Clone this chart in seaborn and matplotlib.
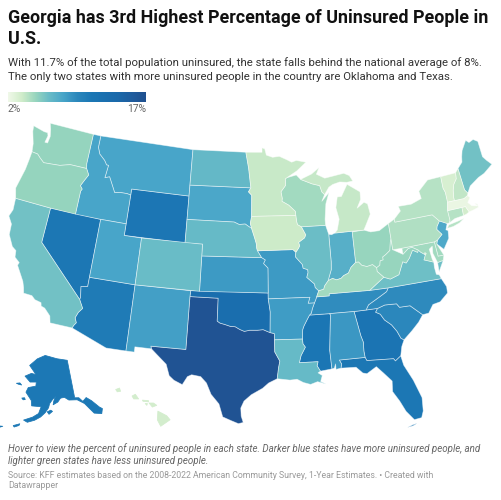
import numpy as np
import matplotlib
matplotlib.use("Agg")
import matplotlib.pyplot as plt
import seaborn as sns

# uninsured share per state
STATES = ["TX", "OK", "GA", "MS", "FL", "WY", "NV", "AK", "AZ", "SC", "NC", "TN", "AL", "MO", "AR", "KS",
          "NM", "MT", "ID", "UT", "SD", "NJ", "IN", "ND", "NE", "CO", "LA", "ME", "CA", "IL", "VA",
          "WA", "OR", "OH", "WV", "KY", "WI", "DE", "MD", "PA", "NY", "CT", "MI", "MN", "IA", "NH",
          "VT", "RI", "HI", "DC", "MA"]
VALUES = [16.6, 12.9, 11.7, 11.4, 11.2, 11.3, 11.2, 11.0, 10.7, 9.6, 9.4, 9.3, 8.7, 8.6, 8.5, 8.6,
          8.3, 8.0, 8.0, 8.0, 7.9, 7.7, 7.3, 6.7, 6.6, 6.5, 6.6, 6.2, 6.2, 6.4, 6.3,
          5.1, 5.1, 5.0, 5.0, 4.7, 4.7, 4.7, 4.7, 4.4, 4.2, 4.2, 3.8, 3.7, 3.6, 3.9,
          3.2, 3.4, 3.4, 2.9, 2.3]

TITLE = ["Georgia has 3rd Highest Percentage of Uninsured People in", "U.S."]
SUBTITLE = ["With 11.7% of the total population uninsured, the state falls behind the national average of 8%.",
            "The only two states with more uninsured people in the country are Oklahoma and Texas."]
NOTE = ["Hover to view the percent of uninsured people in each state. Darker blue states have more uninsured people, and",
        "lighter green states have less uninsured people."]
SOURCE = ["Source: KFF estimates based on the 2008-2022 American Community Survey, 1-Year Estimates. \u2022 Created with",
          "Datawrapper"]
LEGEND_MIN, LEGEND_MAX = 2, 17
RAMP = ["#f0f9e9", "#d0ecca", "#97d5be", "#68bbc7", "#48a5c9", "#2c88bc",
        "#1c78b5", "#1a70b0", "#1b69aa", "#1f5d9e", "#20508f"]

# shared borders in lon/lat
UM1 = [(-92.1, 46.75), (-92.29, 46.66), (-92.29, 46.1), (-92.88, 45.57), (-92.75, 45.0), (-92.8, 44.75), (-92.0, 44.4), (-91.25, 43.85), (-91.22, 43.5)]
UM2 = [(-91.15, 42.95), (-91.07, 42.7), (-90.64, 42.51)]
UM3 = [(-90.18, 41.8), (-90.35, 41.55), (-91.05, 41.2), (-90.95, 40.9), (-91.1, 40.7), (-91.42, 40.38)]
UM4 = [(-91.5, 40.0), (-90.75, 39.3), (-90.7, 39.0), (-90.2, 38.85), (-90.18, 38.6), (-90.35, 38.2), (-89.55, 37.6), (-89.5, 37.3), (-89.15, 37.0)]
UM5 = [(-89.42, 36.5)]
UM6 = [(-89.55, 36.25), (-89.7, 36.0)]
UM7 = [(-89.95, 35.55), (-90.1, 35.15), (-90.3, 35.0)]
UM8 = [(-90.6, 34.6), (-90.95, 34.1), (-91.1, 33.8), (-91.17, 33.0)]
UM9 = [(-91.15, 32.6), (-90.92, 32.3), (-91.4, 31.6), (-91.6, 31.0)]
OHIO_A = [(-88.6, 37.1), (-88.45, 37.4), (-88.03, 37.8)]
OHIO_B = [(-87.55, 37.95), (-87.1, 37.8), (-86.6, 37.9), (-86.3, 38.1), (-85.75, 38.27), (-85.4, 38.73), (-84.82, 39.1)]
OHIO_C = [(-84.5, 39.1), (-84.2, 38.8), (-83.65, 38.63), (-83.0, 38.73), (-82.6, 38.42)]
OHIO_D = [(-82.2, 38.6), (-82.1, 38.95), (-81.75, 39.0), (-81.75, 39.25), (-81.4, 39.4), (-80.85, 39.7), (-80.65, 40.4), (-80.52, 40.64)]
SD_NE = [(-98.5, 43.0), (-97.9, 42.8), (-97.2, 42.85), (-96.7, 42.6), (-96.45, 42.49)]
IA_NE = [(-96.1, 41.7), (-95.9, 41.2), (-95.85, 40.8), (-95.77, 40.58)]
MO_NE = [(-95.31, 40.0)]
KS_MO = [(-94.9, 39.8), (-95.1, 39.5), (-94.61, 39.11), (-94.62, 37.0)]
RED = [(-100.0, 34.56), (-99.7, 34.4), (-99.2, 34.3), (-98.6, 34.15), (-98.1, 34.13), (-97.6, 33.9), (-97.15, 33.75), (-96.6, 33.85), (-95.8, 33.85), (-95.2, 33.9), (-94.48, 33.64)]
TX_LA = [(-94.04, 33.02), (-94.04, 31.99), (-93.55, 31.2), (-93.7, 30.6), (-93.75, 30.3), (-93.85, 29.7)]
ID_MT = [(-116.05, 49.0), (-116.05, 48.0), (-115.7, 47.45), (-114.95, 47.0), (-114.6, 46.65), (-114.35, 46.65), (-114.5, 45.55), (-113.95, 45.7), (-113.45, 45.05), (-113.0, 44.45), (-112.3, 44.55), (-111.5, 44.55), (-111.05, 44.48)]
OR_ID = [(-117.03, 42.0), (-117.03, 44.0), (-116.9, 44.2), (-117.2, 44.45), (-116.85, 45.0), (-116.5, 45.5), (-116.92, 46.0)]
OR_WA = [(-116.92, 46.0), (-118.98, 46.0), (-119.3, 45.93), (-120.2, 45.72), (-121.2, 45.65), (-122.2, 45.58), (-122.8, 45.9), (-123.2, 46.15), (-123.95, 46.2)]
AZ_CA = [(-114.81, 32.5), (-114.72, 32.72), (-114.5, 33.0), (-114.72, 33.4), (-114.5, 33.9), (-114.14, 34.3), (-114.63, 35.0)]
AZ_NV = [(-114.63, 35.0), (-114.57, 35.15), (-114.75, 36.1), (-114.05, 36.2), (-114.05, 37.0)]
GA_SC = [(-83.1, 35.0), (-83.35, 34.7), (-82.9, 34.48), (-82.55, 33.95), (-81.9, 33.45), (-81.45, 32.85), (-81.15, 32.2), (-80.87, 32.03)]
AL_GA = [(-85.6, 34.98), (-85.18, 32.87), (-85.0, 32.3), (-85.05, 31.55), (-85.0, 31.0)]
FL_GA = [(-85.0, 31.0), (-84.86, 30.71), (-82.2, 30.57), (-82.05, 30.36), (-81.45, 30.72)]
NC_SC = [(-83.1, 35.0), (-82.3, 35.2), (-81.05, 35.15), (-80.8, 34.82), (-79.68, 34.8), (-78.55, 33.86)]
NC_TN = [(-81.68, 36.59), (-81.9, 36.3), (-82.6, 36.0), (-83.3, 35.7), (-84.0, 35.4), (-84.32, 34.99)]
KY_WV = [(-82.6, 38.42), (-82.6, 38.1), (-81.97, 37.54)]
VA_WV = [(-81.97, 37.54), (-81.3, 37.3), (-80.3, 37.55), (-79.65, 38.58), (-79.3, 38.42), (-78.87, 38.77), (-78.35, 39.4), (-77.83, 39.13), (-77.72, 39.32)]
MD_VA = [(-77.72, 39.32), (-77.5, 39.1), (-77.04, 38.8), (-77.3, 38.4), (-77.0, 38.3), (-76.3, 38.05)]
MD_WV = [(-77.72, 39.32), (-78.35, 39.65), (-78.8, 39.6), (-79.48, 39.2), (-79.48, 39.72)]
IL_IN = [(-87.53, 41.7), (-87.53, 39.35), (-87.6, 38.7), (-87.95, 38.0), (-88.03, 37.8)]
NH_VT = [(-71.5, 45.01), (-71.6, 44.5), (-72.05, 44.1), (-72.3, 43.6), (-72.45, 43.0), (-72.46, 42.73)]
NY_VT = [(-73.35, 45.0), (-73.4, 44.0), (-73.25, 43.6), (-73.27, 42.75)]
NJ_PA = [(-74.7, 41.36), (-75.1, 40.95), (-75.2, 40.7), (-74.75, 40.2), (-75.4, 39.8)]
ME_NH = [(-71.08, 45.3), (-70.98, 43.4), (-70.7, 43.07)]
WI_UP = [(-90.4, 46.55), (-89.0, 46.1), (-88.1, 45.9), (-87.9, 45.35), (-87.6, 45.1)]


def rev(line):
    return line[::-1]


OUTLINES = {
    "WA": [[(-117.03, 49.0), (-122.76, 49.0), (-122.5, 48.5), (-122.3, 47.9), (-122.4, 47.3), (-122.75, 47.3), (-122.6, 47.9), (-122.75, 48.15), (-123.2, 48.15), (-124.7, 48.38), (-124.6, 47.9), (-124.1, 46.9)] + rev(OR_WA) + [(-117.04, 46.4)]],
    "OR": [[(-124.2, 42.0), (-120.0, 42.0)] + OR_ID + OR_WA[1:] + [(-124.0, 45.5), (-124.1, 44.6), (-124.55, 42.84)]],
    "CA": [[(-124.2, 42.0), (-120.0, 42.0), (-120.0, 39.0)] + rev(AZ_CA) + [(-117.12, 32.53), (-117.3, 33.1), (-118.0, 33.65), (-118.4, 33.75), (-118.5, 34.03), (-119.2, 34.15), (-119.6, 34.42), (-120.5, 34.45), (-120.65, 34.9), (-120.9, 35.4), (-121.9, 36.6), (-121.8, 36.85), (-122.4, 37.2), (-122.5, 37.75), (-123.0, 38.0), (-123.7, 38.9), (-123.8, 39.8), (-124.35, 40.4), (-124.1, 41.0)]],
    "NV": [[(-120.0, 42.0), (-114.04, 42.0)] + rev(AZ_NV) + [(-120.0, 39.0)]],
    "ID": [[(-117.03, 49.0)] + ID_MT + [(-111.05, 42.0), (-114.04, 42.0)] + OR_ID + [(-117.04, 46.4)]],
    "MT": [[(-116.05, 49.0), (-104.05, 49.0), (-104.05, 45.0), (-111.05, 45.0)] + rev(ID_MT)],
    "WY": [[(-111.05, 45.0), (-104.05, 45.0), (-104.05, 41.0), (-111.05, 41.0)]],
    "UT": [[(-114.04, 42.0), (-111.05, 42.0), (-111.05, 41.0), (-109.05, 41.0), (-109.05, 37.0), (-114.05, 37.0)]],
    "CO": [[(-109.05, 41.0), (-102.05, 41.0), (-102.05, 37.0), (-109.05, 37.0)]],
    "AZ": [[(-109.05, 37.0), (-109.05, 31.33), (-111.07, 31.33)] + AZ_CA + AZ_NV[1:]],
    "NM": [[(-109.05, 37.0), (-103.0, 37.0), (-103.04, 36.5), (-103.06, 32.0), (-106.62, 32.0), (-106.53, 31.78), (-108.21, 31.78), (-108.21, 31.33), (-109.05, 31.33)]],
    "ND": [[(-104.05, 49.0), (-97.23, 49.0), (-96.85, 47.6), (-96.56, 45.94), (-104.05, 45.94)]],
    "SD": [[(-104.05, 45.94), (-96.56, 45.94), (-96.85, 45.6), (-96.45, 45.3), (-96.45, 43.5), (-96.6, 42.9)] + rev(SD_NE) + [(-104.05, 43.0)]],
    "NE": [[(-104.05, 43.0)] + SD_NE + IA_NE + MO_NE + [(-102.05, 40.0), (-102.05, 41.0), (-104.05, 41.0)]],
    "KS": [[(-102.05, 40.0), (-95.31, 40.0)] + KS_MO + [(-102.05, 37.0)]],
    "OK": [[(-103.0, 37.0), (-103.04, 36.5), (-100.0, 36.5)] + RED + [(-94.43, 35.4), (-94.62, 36.5), (-94.62, 37.0)]],
    "TX": [[(-106.62, 32.0), (-103.06, 32.0), (-103.04, 36.5), (-100.0, 36.5)] + RED + [(-94.04, 33.55)] + TX_LA + [(-94.7, 29.35), (-95.3, 28.9), (-96.4, 28.35), (-97.1, 27.8), (-97.4, 27.2), (-97.35, 26.5), (-97.15, 25.96), (-97.6, 25.85), (-98.3, 26.1), (-99.1, 26.4), (-99.5, 27.5), (-100.3, 28.3), (-100.8, 29.25), (-101.4, 29.77), (-102.3, 29.88), (-102.7, 29.7), (-103.15, 28.98), (-104.0, 29.3), (-104.5, 29.65), (-104.9, 30.6), (-106.0, 31.4), (-106.53, 31.78)]],
    "MN": [[(-97.23, 49.0), (-95.15, 49.0), (-95.15, 49.38), (-94.8, 49.3), (-94.6, 48.75), (-93.8, 48.55), (-92.95, 48.62), (-92.0, 48.3), (-91.4, 48.07), (-90.8, 48.2), (-89.6, 48.0), (-90.8, 47.3)] + UM1 + [(-96.45, 43.5), (-96.45, 45.3), (-96.85, 45.6), (-96.56, 45.94), (-96.85, 47.6)]],
    "IA": [[(-96.45, 43.5), (-91.22, 43.5)] + UM2 + UM3 + [(-91.73, 40.61), (-95.77, 40.58)] + rev(IA_NE) + [(-96.45, 42.49), (-96.6, 42.9)]],
    "MO": [[(-95.77, 40.58), (-91.73, 40.61), (-91.42, 40.38)] + UM4 + UM5 + UM6 + [(-90.37, 36.0), (-90.15, 36.5), (-94.62, 36.5)] + rev(KS_MO) + MO_NE],
    "AR": [[(-94.62, 36.5), (-90.15, 36.5), (-90.37, 36.0), (-89.7, 36.0)] + UM7 + UM8 + [(-94.04, 33.02), (-94.04, 33.55), (-94.48, 33.64), (-94.43, 35.4)]],
    "LA": [[(-94.04, 33.02), (-91.17, 33.0)] + UM9 + [(-89.73, 31.0), (-89.85, 30.65), (-89.55, 30.18), (-89.8, 30.05), (-89.4, 29.8), (-89.6, 29.3), (-89.1, 29.05), (-89.9, 29.3), (-90.6, 29.1), (-91.3, 29.3), (-91.9, 29.6), (-92.6, 29.55)] + rev(TX_LA)],
    "MS": [[(-90.3, 35.0), (-88.2, 35.0), (-88.1, 34.9), (-88.47, 31.9), (-88.4, 30.3), (-89.55, 30.18), (-89.85, 30.65), (-89.73, 31.0)] + rev(UM9) + [(-91.17, 33.0)] + rev(UM8)],
    "AL": [[(-88.2, 35.0)] + AL_GA + [(-87.6, 31.0), (-87.4, 30.65), (-87.5, 30.3), (-88.0, 30.23), (-88.0, 30.7), (-88.15, 30.35), (-88.4, 30.3), (-88.47, 31.9), (-88.1, 34.9)]],
    "GA": [[(-85.6, 34.98), (-84.32, 34.99)] + GA_SC + [(-81.2, 31.5)] + rev(FL_GA) + rev(AL_GA)[1:-1]],
    "FL": [[(-87.6, 31.0)] + FL_GA + [(-81.3, 29.9), (-80.6, 28.5), (-80.05, 26.9), (-80.15, 25.75), (-80.4, 25.2), (-81.1, 25.13), (-81.75, 25.95), (-82.2, 26.9), (-82.75, 27.8), (-82.65, 28.7), (-83.4, 29.5), (-84.0, 30.1), (-85.0, 29.6), (-85.4, 29.7), (-86.0, 30.25), (-87.5, 30.3), (-87.4, 30.65)],
           [(-81.85, 24.55), (-81.3, 24.62), (-80.9, 24.78), (-81.3, 24.72)]],
    "SC": [NC_SC + [(-79.1, 33.3), (-79.9, 32.7)] + rev(GA_SC)[:-1]],
    "NC": [[(-84.32, 34.99)] + NC_SC + [(-77.9, 33.9), (-77.3, 34.55), (-76.5, 34.65), (-75.55, 35.25), (-75.5, 35.8), (-75.87, 36.55)] + NC_TN],
    "TN": [[(-90.3, 35.0)] + rev(UM7) + [(-89.7, 36.0)] + rev(UM6) + UM5 + [(-88.07, 36.5), (-88.05, 36.68), (-83.68, 36.6)] + NC_TN + [(-85.6, 34.98), (-88.2, 35.0)]],
    "KY": [UM5 + [(-89.15, 37.0)] + OHIO_A + OHIO_B + OHIO_C + KY_WV[1:] + [(-83.68, 36.6), (-88.05, 36.68), (-88.07, 36.5)]],
    "IL": [[(-90.64, 42.51), (-87.8, 42.49)] + IL_IN + rev(OHIO_A) + [(-89.15, 37.0)] + rev(UM4)[1:] + [(-91.42, 40.38)] + rev(UM3)[1:]],
    "IN": [[(-87.53, 41.7), (-87.2, 41.65), (-86.82, 41.76), (-84.8, 41.76), (-84.82, 39.1)] + rev(OHIO_B)[1:] + rev(IL_IN)[:-1]],
    "OH": [[(-84.8, 41.7), (-83.45, 41.73), (-82.7, 41.5), (-81.7, 41.5), (-80.52, 41.98), (-80.52, 40.64)] + rev(OHIO_D)[1:] + [(-82.6, 38.42)] + rev(OHIO_C)[1:] + [(-84.82, 39.1)]],
    "MI": [[(-86.82, 41.76), (-84.8, 41.76), (-83.45, 41.73), (-83.15, 42.1), (-82.45, 43.0), (-82.6, 43.9), (-83.0, 44.07), (-83.9, 43.65), (-83.35, 44.35), (-83.3, 45.0), (-84.75, 45.78), (-85.6, 44.8), (-86.1, 44.8), (-86.4, 43.9), (-86.15, 42.9), (-86.5, 42.0)],
           rev(WI_UP) + [(-89.0, 46.95), (-88.0, 47.45), (-88.4, 46.9), (-87.4, 46.5), (-85.0, 46.75), (-84.35, 46.5), (-84.0, 46.0), (-84.75, 45.95), (-85.6, 46.05), (-86.5, 45.9), (-87.0, 45.7)]],
    "WI": [[(-92.1, 46.75), (-90.9, 46.95)] + WI_UP + [(-88.0, 44.55), (-87.05, 45.25), (-87.55, 44.3), (-87.8, 43.0), (-87.8, 42.49), (-90.64, 42.51)] + rev(UM2)[1:] + [(-91.22, 43.5)] + rev(UM1)[1:]],
    "PA": [[(-80.52, 41.98), (-79.76, 42.27), (-79.76, 42.0), (-75.35, 42.0)] + NJ_PA + [(-75.78, 39.72), (-79.48, 39.72), (-80.52, 39.72), (-80.52, 40.64)]],
    "NY": [[(-79.76, 42.27), (-78.9, 42.85), (-79.05, 43.27), (-77.5, 43.25), (-76.2, 43.55), (-76.3, 44.2), (-75.0, 44.98)] + NY_VT + [(-73.5, 42.05), (-73.49, 41.2), (-73.65, 41.0), (-73.9, 41.0), (-74.7, 41.36), (-75.35, 42.0), (-79.76, 42.0)],
           [(-74.0, 40.6), (-73.75, 40.85), (-72.6, 40.98), (-71.9, 41.07), (-72.5, 40.8), (-73.3, 40.63)]],
    "NJ": [[(-74.7, 41.36), (-73.9, 41.0), (-74.2, 40.5), (-73.98, 40.4), (-74.1, 39.75), (-74.9, 38.93), (-75.55, 39.5), (-75.4, 39.8)] + rev(NJ_PA)[1:-1]],
    "DE": [[(-75.78, 39.72), (-75.4, 39.8), (-75.55, 39.5), (-75.05, 38.45), (-75.7, 38.46)]],
    "MD": [[(-79.48, 39.72), (-75.78, 39.72), (-75.7, 38.46), (-75.05, 38.45), (-75.25, 38.03), (-75.9, 37.95), (-76.2, 38.8), (-76.1, 39.4), (-76.5, 39.2), (-76.4, 38.3)] + rev(MD_VA) + MD_WV[1:-1]],
    "DC": [[(-77.12, 38.93), (-77.04, 39.0), (-76.91, 38.89), (-77.04, 38.79)]],
    "VA": [[(-83.68, 36.6), (-81.68, 36.59), (-75.87, 36.55), (-76.0, 36.9), (-76.3, 37.0), (-76.35, 37.6)] + rev(MD_VA) + rev(VA_WV)[1:],
           [(-75.25, 38.03), (-75.9, 37.95), (-75.95, 37.15)]],
    "WV": [[(-80.52, 40.64), (-80.52, 39.72)] + rev(MD_WV)[1:] + rev(VA_WV)[1:] + rev(KY_WV) + OHIO_D[:-1]],
    "VT": [NY_VT[:1] + NH_VT + rev(NY_VT)[:-1]],
    "NH": [[(-71.5, 45.01)] + ME_NH + [(-70.82, 42.87), (-71.3, 42.7)] + rev(NH_VT)[:-1]],
    "ME": [[(-71.08, 45.3), (-70.4, 45.75), (-70.25, 46.2), (-70.0, 46.7), (-69.23, 47.46), (-68.9, 47.2), (-68.3, 47.35), (-67.8, 47.07), (-67.8, 45.7), (-67.45, 45.3), (-66.98, 44.85), (-68.2, 44.3), (-69.0, 44.1), (-70.2, 43.6)] + rev(ME_NH)[:-1]],
    "MA": [[(-73.27, 42.75), (-72.46, 42.73), (-71.3, 42.7), (-70.82, 42.87), (-70.6, 42.65), (-71.0, 42.3), (-70.65, 41.95), (-70.0, 41.8), (-70.25, 42.07), (-69.95, 41.95), (-69.95, 41.67), (-70.65, 41.55), (-71.12, 41.5), (-71.38, 42.02), (-71.8, 42.02), (-73.5, 42.05)]],
    "RI": [[(-71.8, 42.02), (-71.38, 42.02), (-71.12, 41.5), (-71.5, 41.37), (-71.85, 41.32)]],
    "CT": [[(-73.5, 42.05), (-71.8, 42.02), (-71.85, 41.32), (-72.9, 41.25), (-73.65, 41.0), (-73.49, 41.2)]],
    "AK": [[(-141.0, 69.65), (-148.0, 70.4), (-156.5, 71.3), (-162.0, 70.3), (-166.5, 68.4), (-163.0, 67.0), (-161.8, 66.4), (-164.5, 66.55), (-168.0, 65.6), (-164.5, 64.4), (-161.0, 64.6), (-161.0, 63.6), (-165.0, 63.0), (-165.8, 61.8), (-162.5, 60.0), (-162.0, 58.7), (-157.5, 58.7), (-158.5, 57.0), (-161.0, 56.0), (-164.7, 55.0), (-163.0, 54.6), (-160.0, 55.3), (-157.5, 56.2), (-155.5, 57.3), (-154.0, 58.5), (-153.5, 59.5), (-152.0, 60.5), (-150.5, 61.2), (-151.5, 60.0), (-151.8, 59.2), (-149.5, 59.8), (-148.0, 60.7), (-146.0, 60.8), (-144.0, 60.0), (-140.0, 59.7), (-137.0, 58.4), (-135.5, 57.0), (-134.0, 55.5), (-131.0, 54.8), (-130.0, 55.9), (-131.0, 56.5), (-133.5, 58.6), (-135.5, 59.7), (-137.5, 59.0), (-139.0, 60.1), (-141.0, 60.3)],
           [(-154.6, 57.5), (-153.0, 57.9), (-152.2, 57.6), (-153.8, 56.9)],
           [(-168.5, 53.2), (-166.0, 53.95), (-166.2, 53.5), (-168.0, 52.9)],
           [(-171.8, 63.4), (-170.0, 63.7), (-168.8, 63.3), (-170.5, 63.3)],
           [(-167.3, 60.2), (-166.0, 60.4), (-165.5, 60.0), (-166.5, 59.85)],
           [(-176.9, 51.95), (-176.0, 52.2), (-176.2, 51.75)],
           [(-174.5, 52.15), (-172.5, 52.4), (-173.5, 52.0)]],
    "HI": [[(-155.9, 20.25), (-155.1, 19.85), (-154.8, 19.5), (-155.65, 18.95), (-155.95, 19.5)],
           [(-156.7, 20.95), (-156.3, 20.95), (-156.0, 20.75), (-156.4, 20.6)],
           [(-158.25, 21.55), (-157.95, 21.7), (-157.65, 21.3), (-158.1, 21.3)],
           [(-159.75, 22.1), (-159.4, 22.23), (-159.3, 21.95), (-159.6, 21.9)],
           [(-157.3, 21.2), (-156.75, 21.15), (-156.75, 21.05), (-157.25, 21.1)],
           [(-157.05, 20.9), (-156.85, 20.9), (-156.9, 20.75)]],
}

# albers usa, in figure pixels
SCALE = 670
TX0, TY0 = 250.0, 273.0


def conic(points, rotate, center, parallels, k, tx, ty):
    p0, p1 = np.radians(parallels)
    n = (np.sin(p0) + np.sin(p1)) / 2
    c = np.cos(p0) ** 2 + 2 * n * np.sin(p0)
    r0 = np.sqrt(c) / n

    def raw(lon, lat):
        lam = np.radians(lon + rotate) * n
        r = np.sqrt(c - 2 * n * np.sin(np.radians(lat))) / n
        return r * np.sin(lam), r0 - r * np.cos(lam)

    xc, yc = raw(center[0], center[1])
    pts = np.array(points)
    x, y = raw(pts[:, 0], pts[:, 1])
    return np.column_stack([tx + k * (x - xc), ty - k * (y - yc)])


def project(state, points):
    if state == "AK":
        return conic(points, 154, (-156, 58.5), (55, 65), SCALE * 0.35, TX0 - 0.307 * SCALE, TY0 + 0.201 * SCALE)
    if state == "HI":
        return conic(points, 157, (-160, 19.9), (8, 18), SCALE, TX0 - 0.205 * SCALE, TY0 + 0.212 * SCALE)
    return conic(points, 96, (-96.6, 38.7), (29.5, 45.5), SCALE, TX0, TY0)


sns.set_theme(style="white")
plt.rcParams["font.family"] = ["Roboto", "DejaVu Sans"]
cmap = sns.blend_palette(RAMP, as_cmap=True)
norm = plt.Normalize(LEGEND_MIN, LEGEND_MAX)

fig = plt.figure(figsize=(5.02, 5.0), dpi=100)
ax = fig.add_axes([0, 0, 1, 1])

for state, value in zip(STATES, VALUES):
    for part in OUTLINES[state]:
        xy = project(state, part)
        # the thin alaska parts would vanish under a white edge
        edge = cmap(norm(value)) if state in ("AK", "HI") else (1, 1, 1, 0.55)
        ax.fill(xy[:, 0], xy[:, 1], facecolor=cmap(norm(value)), edgecolor=edge, linewidth=0.55, joinstyle="round")

# legend
ax.imshow(np.linspace(0, 1, 256)[None, :], cmap=cmap, extent=(8, 146, 102, 92), aspect="auto", zorder=2)
ax.set_xlim(0, 502)
ax.set_ylim(500, 0)
ax.axis("off")
ax.text(8, 109.5, f"{LEGEND_MIN}%", fontsize=7.4, color="#666666", va="center")
ax.text(146, 109.5, f"{LEGEND_MAX}%", fontsize=7.4, color="#666666", va="center", ha="right")

for line, y in zip(TITLE, (18, 39)):
    ax.text(8, y, line, fontsize=12.87, fontweight="bold", color="#111111", va="center")
for line, y in zip(SUBTITLE, (63, 77)):
    ax.text(8, y, line, fontsize=8.17, color="#333333", va="center")
for line, y in zip(NOTE, (449, 461)):
    ax.text(8, y, line, fontsize=7.0, style="italic", color="#666666", va="center")
for line, y in zip(SOURCE, (476, 486)):
    ax.text(8, y, line, fontsize=6.35, color="#999999", va="center")

fig.savefig("out.png", dpi=100)
